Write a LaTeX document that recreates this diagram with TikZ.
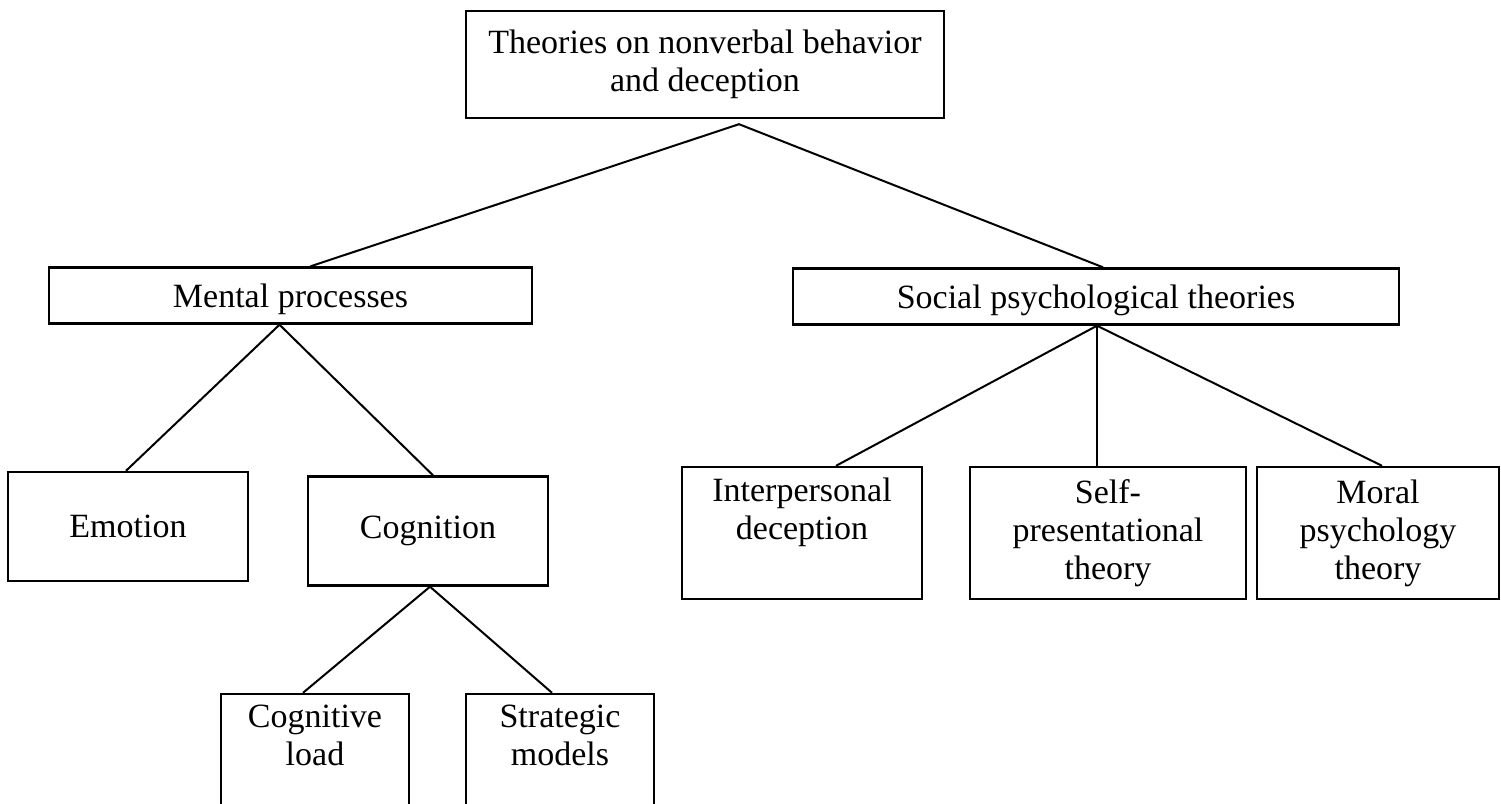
\documentclass[tikz,border=0pt]{standalone}
\usepackage{fontspec}
\setmainfont{Liberation Serif}
\usetikzlibrary{calc}

\begin{document}
\begin{tikzpicture}[
    x=1pt, y=-1pt,
    font=\fontsize{34}{38}\selectfont,
    line width=2pt,
    every node/.style={align=center},
    box/.style={draw, line width=2.4pt, inner sep=0pt,
                minimum width=240pt, minimum height=109pt},
    wide/.style={box, minimum height=56pt, text height=31pt},
    tall/.style={box, minimum height=132pt}
]
\useasboundingbox (0,0) rectangle (1501,803);

% Title box
\node[box, minimum width=478pt, minimum height=107pt] (theories) at (705,64.5)
   {Theories on nonverbal behavior\\and deception};

% 1) Mental processes branch
\node[wide, minimum width=483pt] (mental) at (290.5,295.5) {Mental processes};
\node[box] (emotion) at (128,526.5) {Emotion};
\node[box] (cognition) at (428,531) {Cognition};
\node[tall, minimum width=188pt] (cogload) at (315,760) {Cognitive\\load\\\strut};
\node[tall, minimum width=188pt] (strategic) at (560,760) {Strategic\\models\\\strut};

% 2) Social psychological branch
\node[wide, minimum width=606pt] (social) at (1096,296.5) {Social psychological theories};
\node[tall] (interpers) at (802,533) {Interpersonal\\deception\\\strut};
\node[tall, minimum width=276pt] (selfpres) at (1108,533) {Self-\\presentational\\theory};
\node[tall, minimum width=242pt] (moral) at (1378,533) {Moral\\psychology\\theory};

% 3) Connecting lines (forks sit just under each parent box)
\coordinate (topfork) at ([xshift=34pt,yshift=-5pt]theories.south);
\draw ([xshift=20pt]mental.north) -- (topfork) -- ([xshift=7pt]social.north);

\coordinate (mentalfork) at ([xshift=-11pt]mental.south);
\draw ([xshift=-2pt]emotion.north) -- (mentalfork) -- ([xshift=5pt]cognition.north);

\coordinate (socialfork) at ([xshift=1pt]social.south);
\draw ([xshift=34pt]interpers.north) -- (socialfork) -- ([xshift=4pt]moral.north);
\draw (socialfork) -- ([xshift=-11pt]selfpres.north);

\coordinate (cogfork) at ([xshift=2pt]cognition.south);
\draw ([xshift=-12pt]cogload.north) -- (cogfork) -- ([xshift=-8pt]strategic.north);

\end{tikzpicture}
\end{document}
